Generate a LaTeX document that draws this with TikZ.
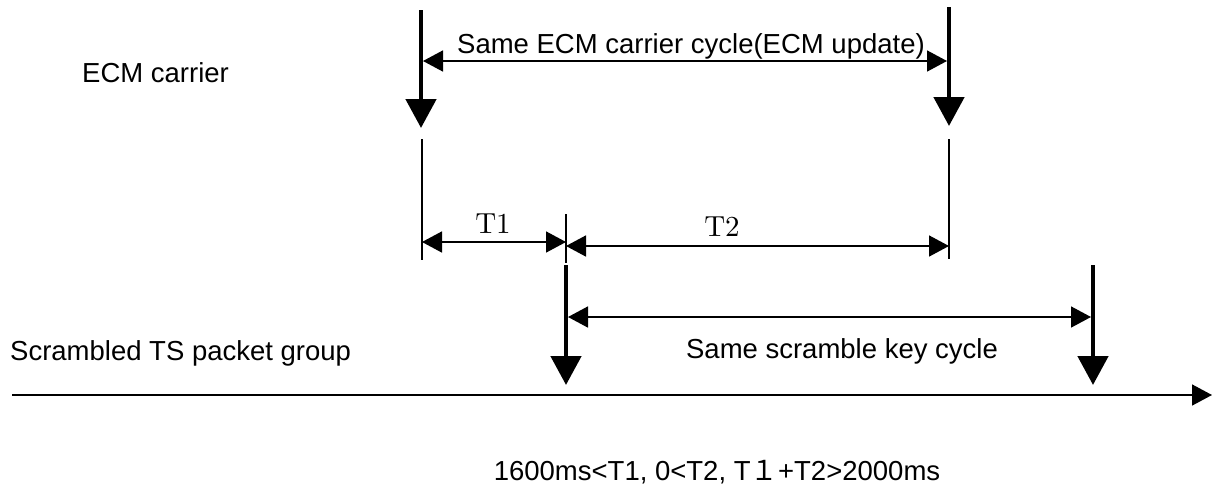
\documentclass[tikz,border=0pt]{standalone}
\usepackage{fontspec}
\usetikzlibrary{arrows.meta}
\newfontfamily\arialf{Liberation Sans}
\newfontfamily\cjkf{Noto Sans CJK JP}
\newfontfamily\lmrten{lmroman10-regular.otf}
\tikzset{
  sanslbl/.style={inner sep=0pt, font=\arialf\fontsize{27.5}{33}\selectfont},
  seriflbl/.style={inner sep=0pt, font=\lmrten\fontsize{29}{35}\selectfont},
  thickarr/.style={line width=4.8pt, -{Triangle[length=29pt,width=30pt]}},
  dimarr/.style={line width=1.6pt, {Triangle[length=20pt,width=21pt]}-{Triangle[length=20pt,width=21pt]}},
  thinline/.style={line width=1.3pt},
  axisarr/.style={line width=1.6pt, -{Triangle[length=20pt,width=21pt]}}
}
\begin{document}
\begin{tikzpicture}[x=1pt,y=-1pt]
\useasboundingbox (0,0) rectangle (1213,488);
% coordinates
\coordinate (ecmAtop) at (421,10);
\coordinate (ecmAtip) at (421,128);
\coordinate (ecmBtop) at (949,7);
\coordinate (ecmBtip) at (949,126);
\coordinate (cycA) at (423,61);
\coordinate (cycB) at (947,61);
\coordinate (vlAtop) at (422,139);
\coordinate (vlAbot) at (422,260);
\coordinate (vlBtop) at (949,139);
\coordinate (vlBbot) at (949,259);
\coordinate (vlMtop) at (566,214);
\coordinate (vlMbot) at (566,263);
\coordinate (tOneA) at (422,242);
\coordinate (tOneB) at (566,242);
\coordinate (tTwoA) at (566,246);
\coordinate (tTwoB) at (949,246);
\coordinate (keyAtop) at (566,265);
\coordinate (keyAtip) at (566,385);
\coordinate (keyBtop) at (1093,265);
\coordinate (keyBtip) at (1093,385);
\coordinate (skA) at (568,317);
\coordinate (skB) at (1091,317);
\coordinate (axA) at (12,395);
\coordinate (axB) at (1212,395);
% texts
\node[sanslbl, anchor=base west] (ecmlbl) at (82,82) {ECM carrier};
\node[sanslbl, anchor=base] (cyclbl) at (691,53) {Same ECM carrier cycle(ECM update)};
\node[seriflbl, anchor=base] (t1lbl) at (493,233) {T1};
\node[seriflbl, anchor=base] (t2lbl) at (722,236) {T2};
\node[sanslbl, anchor=base west] (tslbl) at (10,360) {Scrambled TS packet group};
\node[sanslbl, anchor=base] (sklbl) at (842,358) {Same scramble key cycle};
\node[sanslbl, anchor=base] (condlbl) at (717,480) {1600ms<T1, 0<T2, T{\cjkf １}+T2>2000ms};
% arrows
\draw[thickarr] (ecmAtop) -- (ecmAtip);
\draw[thickarr] (ecmBtop) -- (ecmBtip);
\draw[dimarr] (cycA) -- (cycB);
\draw[thinline] (vlAtop) -- (vlAbot);
\draw[thinline] (vlBtop) -- (vlBbot);
\draw[thinline] (vlMtop) -- (vlMbot);
\draw[dimarr] (tOneA) -- (tOneB);
\draw[dimarr] (tTwoA) -- (tTwoB);
\draw[thickarr] (keyAtop) -- (keyAtip);
\draw[thickarr] (keyBtop) -- (keyBtip);
\draw[dimarr] (skA) -- (skB);
\draw[axisarr] (axA) -- (axB);
\end{tikzpicture}
\end{document}
